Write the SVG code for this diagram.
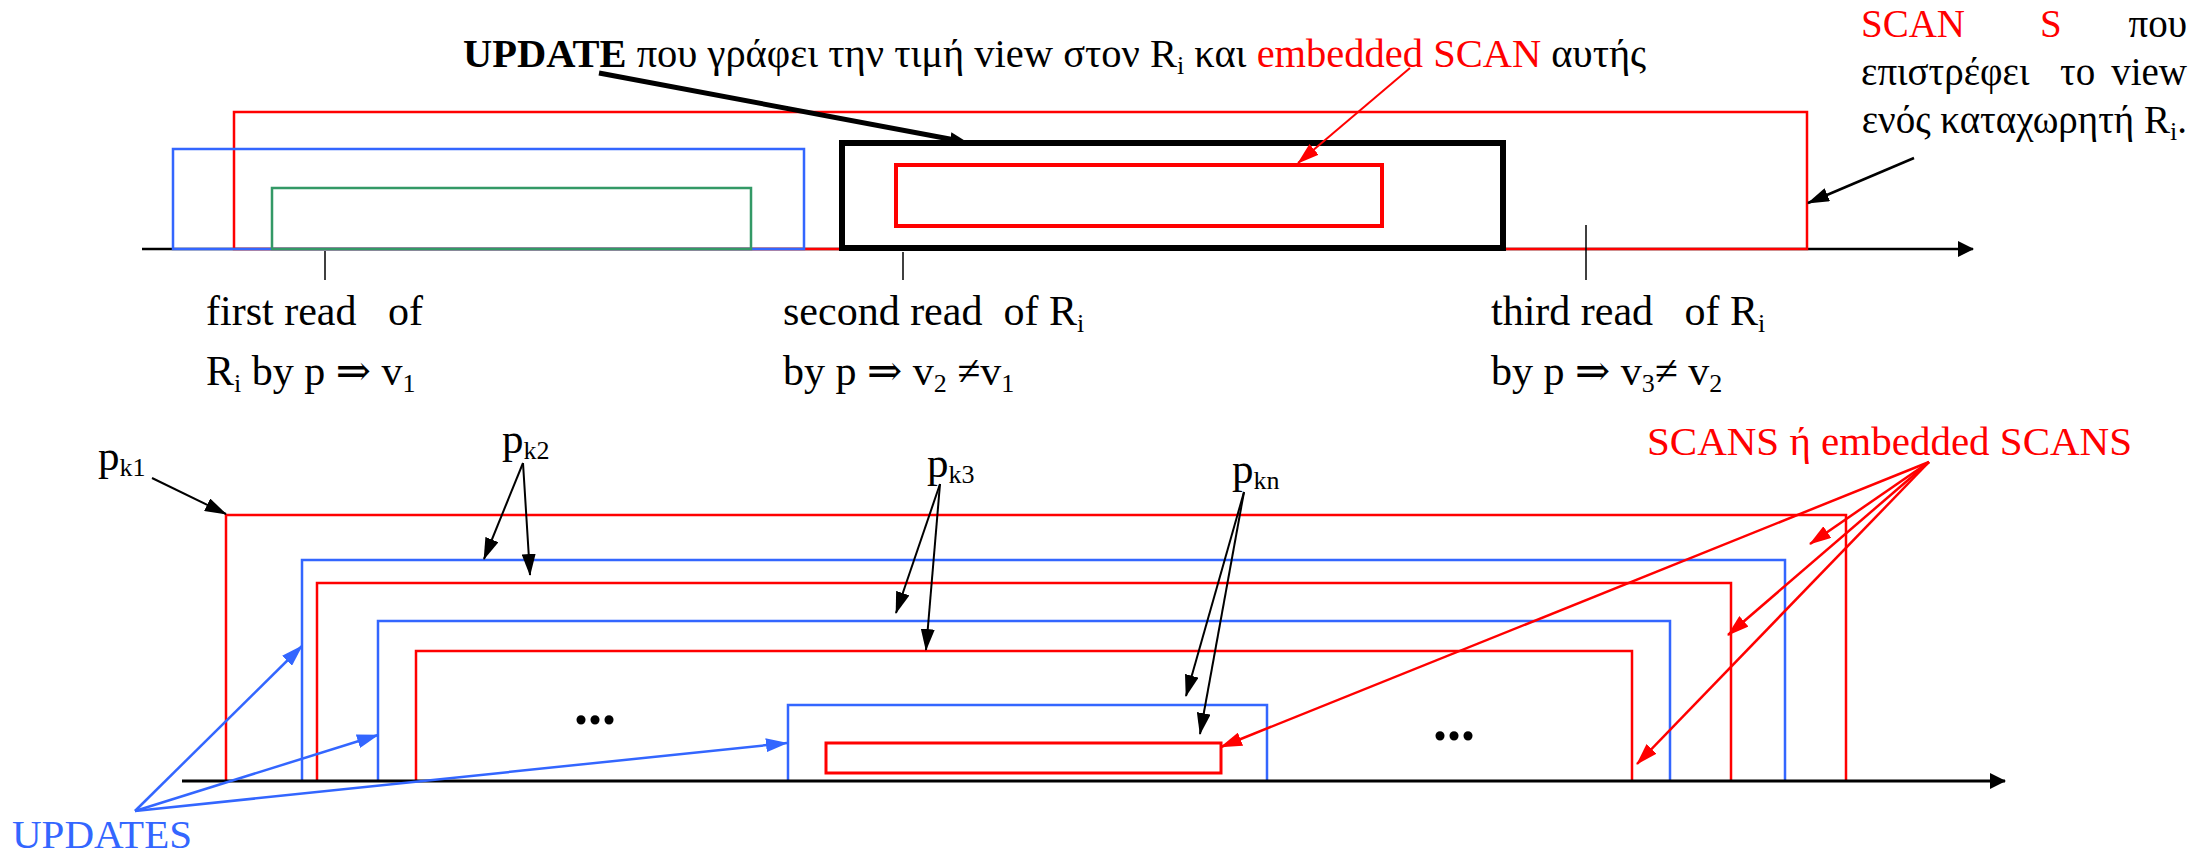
<svg xmlns="http://www.w3.org/2000/svg" width="2199" height="854" viewBox="0 0 2199 854">
  <style>
    text { font-family: "Liberation Serif", "DejaVu Serif", serif; fill: #000; white-space: pre; }
    .red { fill: #FF0000; }
    .blue { fill: #3366FF; }
    .lbl { font-size: 42px; }
    .sub { font-size: 26px; }
    .r { stroke: #FF0000; fill: none; }
    .b { stroke: #3366FF; fill: none; }
    .g { stroke: #339966; fill: none; }
    .k { stroke: #000; fill: none; }
  </style>
  <defs>
    <marker id="headK" markerUnits="userSpaceOnUse" markerWidth="22" markerHeight="14" refX="21" refY="7" orient="auto">
      <path d="M0,0 L22,7 L0,14 z" fill="#000"/>
    </marker>
    <marker id="headKthick" markerUnits="userSpaceOnUse" markerWidth="18" markerHeight="14" refX="5" refY="7" orient="auto">
      <path d="M0,0 L18,7 L0,14 z" fill="#000"/>
    </marker>
    <marker id="headR" markerUnits="userSpaceOnUse" markerWidth="22" markerHeight="14" refX="21" refY="7" orient="auto">
      <path d="M0,0 L22,7 L0,14 z" fill="#FF0000"/>
    </marker>
    <marker id="headB" markerUnits="userSpaceOnUse" markerWidth="22" markerHeight="14" refX="21" refY="7" orient="auto">
      <path d="M0,0 L22,7 L0,14 z" fill="#3366FF"/>
    </marker>
    <marker id="axisHead" markerUnits="userSpaceOnUse" markerWidth="16" markerHeight="16" refX="15" refY="8" orient="auto">
      <path d="M0,0 L16,8 L0,16 z" fill="#000"/>
    </marker>
  </defs>

  <g font-family="Liberation Serif, DejaVu Serif, serif">
  <!-- ===== Upper timeline: one SCAN S and the reads of R_i ===== -->
  <g id="top-axis">
    <line x1="142" y1="249" x2="1973" y2="249" class="k" stroke-width="2.5" marker-end="url(#axisHead)"/>
  </g>
  <g id="scan-s">
    <path d="M234,249 V112 H1807 V249 Z" class="r" stroke-width="2.5"/>
  </g>
  <g id="update-blue">
    <path d="M173,249 V149 H804 V249 Z" class="b" stroke-width="2.5"/>
  </g>
  <g id="update-green">
    <path d="M272,249 V188 H751 V249 Z" class="g" stroke-width="2.5"/>
  </g>
  <g id="update-view">
    <rect x="842" y="143" width="661" height="105" class="k" stroke-width="6"/>
  </g>
  <g id="embedded-scan">
    <rect x="896" y="165" width="486" height="61" class="r" stroke-width="4"/>
  </g>
  <g id="read-ticks">
    <line x1="325" y1="251" x2="325" y2="280" class="k" stroke-width="1.5"/>
    <line x1="903" y1="252" x2="903" y2="280" class="k" stroke-width="1.5"/>
    <line x1="1586" y1="225" x2="1586" y2="280" class="k" stroke-width="1.5"/>
  </g>

  <g id="label-update">
    <text x="463" y="67" font-size="40.5"><tspan font-weight="bold">UPDATE</tspan> που γράφει την τιμή view στον R<tspan class="sub" dy="7">i</tspan><tspan dy="-7"> και </tspan><tspan class="red">embedded SCAN</tspan> αυτής</text>
  </g>
  <g id="label-scan-s">
    <text x="1861" y="37" font-size="39" class="red">SCAN</text>
    <text x="2040" y="37" font-size="39" class="red">S</text>
    <text x="2187" y="37" font-size="39" text-anchor="end">που</text>
    <text x="1861" y="85" font-size="39">επιστρέφει</text>
    <text x="2060" y="85" font-size="39">το</text>
    <text x="2187" y="85" font-size="39" text-anchor="end">view</text>
    <text x="2187" y="133" font-size="39" text-anchor="end">ενός καταχωρητή R<tspan class="sub" dy="7">i</tspan><tspan dy="-7">.</tspan></text>
  </g>
  <g id="label-read1">
    <text x="206" y="325" class="lbl">first read   of</text>
    <text x="206" y="385" class="lbl">R<tspan class="sub" dy="7">i</tspan><tspan dy="-7"> by p ⇒ v</tspan><tspan class="sub" dy="7">1</tspan></text>
  </g>
  <g id="label-read2">
    <text x="783" y="325" class="lbl">second read  of R<tspan class="sub" dy="7">i</tspan></text>
    <text x="783" y="385" class="lbl">by p ⇒ v<tspan class="sub" dy="7">2</tspan><tspan dy="-7"> ≠v</tspan><tspan class="sub" dy="7">1</tspan></text>
  </g>
  <g id="label-read3">
    <text x="1491" y="325" class="lbl">third read   of R<tspan class="sub" dy="7">i</tspan></text>
    <text x="1491" y="385" class="lbl">by p ⇒ v<tspan class="sub" dy="7">3</tspan><tspan dy="-7">≠ v</tspan><tspan class="sub" dy="7">2</tspan></text>
  </g>

  <!-- ===== Lower timeline: nested SCANS and UPDATES ===== -->
  <g id="scan-k1">
    <path d="M226,781 V515 H1846 V781" class="r" stroke-width="2.5"/>
  </g>
  <g id="update-k2">
    <path d="M302,781 V560 H1785 V781" class="b" stroke-width="2.5"/>
  </g>
  <g id="scan-k2">
    <path d="M317,781 V583 H1731 V781" class="r" stroke-width="2.5"/>
  </g>
  <g id="update-k3">
    <path d="M378,781 V621 H1670 V781" class="b" stroke-width="2.5"/>
  </g>
  <g id="scan-k3">
    <path d="M416,781 V651 H1632 V781" class="r" stroke-width="2.5"/>
  </g>
  <g id="update-kn">
    <path d="M788,781 V705 H1267 V781" class="b" stroke-width="2.5"/>
  </g>
  <g id="scan-kn">
    <rect x="826" y="743" width="395" height="30" class="r" stroke-width="3"/>
  </g>
  <g id="bottom-axis">
    <line x1="182" y1="781" x2="2005" y2="781" class="k" stroke-width="3" marker-end="url(#axisHead)"/>
  </g>
  <g id="ellipsis">
    <text x="574" y="724" font-size="56" font-weight="bold">...</text>
    <text x="1433" y="740" font-size="56" font-weight="bold">...</text>
  </g>

  <g id="label-pk">
    <text x="98" y="470" font-size="43">p<tspan class="sub" dy="6">k1</tspan></text>
    <text x="502" y="453" font-size="43">p<tspan class="sub" dy="6">k2</tspan></text>
    <text x="927" y="477" font-size="43">p<tspan class="sub" dy="6">k3</tspan></text>
    <text x="1232" y="483" font-size="43">p<tspan class="sub" dy="6">kn</tspan></text>
  </g>
  <g id="label-scans">
    <text x="2132" y="455" font-size="41" class="red" text-anchor="end">SCANS ή embedded SCANS</text>
  </g>
  <g id="label-updates">
    <text x="12" y="848" font-size="41" class="blue">UPDATES</text>
  </g>
  </g>

  <!-- ===== Connectors ===== -->
  <g id="connectors">
    <!-- upper diagram -->
    <line x1="599" y1="73" x2="955" y2="140" class="k" stroke-width="5" marker-end="url(#headKthick)"/>
    <line x1="1410" y1="68" x2="1298" y2="163" class="r" stroke-width="2" marker-end="url(#headR)"/>
    <line x1="1914" y1="158" x2="1808" y2="203" class="k" stroke-width="2.5" marker-end="url(#headK)"/>
    <!-- process labels -->
    <line x1="152" y1="478" x2="226" y2="514" class="k" stroke-width="2" marker-end="url(#headK)"/>
    <line x1="523" y1="463" x2="484" y2="559" class="k" stroke-width="2" marker-end="url(#headK)"/>
    <line x1="523" y1="463" x2="530" y2="575" class="k" stroke-width="2" marker-end="url(#headK)"/>
    <line x1="940" y1="484" x2="896" y2="613" class="k" stroke-width="2" marker-end="url(#headK)"/>
    <line x1="940" y1="484" x2="926" y2="650" class="k" stroke-width="2" marker-end="url(#headK)"/>
    <line x1="1244" y1="492" x2="1186" y2="696" class="k" stroke-width="2" marker-end="url(#headK)"/>
    <line x1="1244" y1="492" x2="1200" y2="734" class="k" stroke-width="2" marker-end="url(#headK)"/>
    <!-- SCANS -->
    <line x1="1929" y1="462" x2="1810" y2="544" class="r" stroke-width="2.5" marker-end="url(#headR)"/>
    <line x1="1929" y1="462" x2="1728" y2="635" class="r" stroke-width="2.5" marker-end="url(#headR)"/>
    <line x1="1929" y1="462" x2="1637" y2="764" class="r" stroke-width="2.5" marker-end="url(#headR)"/>
    <line x1="1929" y1="462" x2="1221" y2="747" class="r" stroke-width="2.5" marker-end="url(#headR)"/>
    <!-- UPDATES -->
    <line x1="135" y1="811" x2="302" y2="646" class="b" stroke-width="2.5" marker-end="url(#headB)"/>
    <line x1="135" y1="811" x2="378" y2="735" class="b" stroke-width="2.5" marker-end="url(#headB)"/>
    <line x1="135" y1="811" x2="787" y2="743" class="b" stroke-width="2.5" marker-end="url(#headB)"/>
  </g>
</svg>
